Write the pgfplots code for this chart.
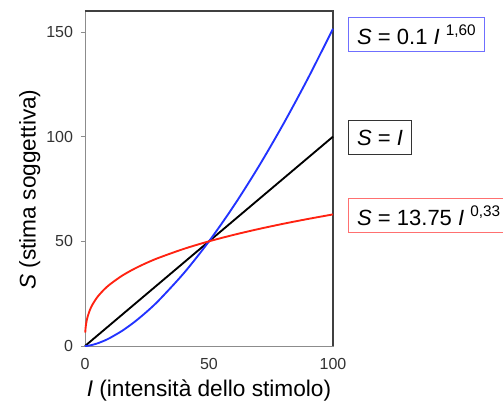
\documentclass[border=0pt]{standalone}
\usepackage{pgfplots}
\pgfplotsset{compat=1.18}
\usepackage{fontspec}
\setmainfont{Liberation Sans}
\definecolor{cblue}{HTML}{2233FF}
\definecolor{cred}{HTML}{FF2211}
\definecolor{bblue}{HTML}{6F6FFF}
\definecolor{bred}{HTML}{FF7070}
\begin{document}
\begin{tikzpicture}
\path[use as bounding box] (-63.75pt,-44.25pt) rectangle (313.5pt,259.5pt);
\begin{axis}[
  at={(0,0)}, anchor=south west,
  scale only axis, width=186pt, height=251.25pt,
  xmin=0, xmax=100, ymin=0, ymax=160,
  xtick={0,50,100}, ytick={0,50,100,150},
  /pgf/number format/assume math mode=true,
  tick label style={font=\fontsize{12}{14}\selectfont, text=black!80},
  axis line style={draw=gray!90},
  tick align=outside, tick pos=left,
  x tick style={draw=none}, major tick length=3pt,
  y tick style={draw=gray!90, line width=0.6pt},
  xticklabel style={yshift=-3pt},
  yticklabel style={xshift=-2.5pt},
  xlabel={\textit{I} (intensità dello stimolo)},
  ylabel={\textit{S} (stima soggettiva)},
  label style={font=\fontsize{17}{20}\selectfont},
  xlabel style={at={(rel axis cs:0.5,0)}, anchor=center, yshift=-33pt},
  ylabel style={at={(rel axis cs:0,0.467)}, anchor=center, yshift=41.5pt},
  clip=false,
]
\draw[black!75, line width=0.8pt] (rel axis cs:0,1) -- (rel axis cs:1,1) -- (rel axis cs:1,0);
\addplot[black, line width=1.4pt] coordinates {(0,0) (100,100)};
\addplot[cblue, line width=1.4pt, smooth] coordinates {
(0,0) (1,0.096) (2,0.29) (3,0.555) (5,1.256) (7.5,2.40) (10,3.81) (15,7.28)
(20,11.54) (25,16.49) (30,22.08) (40,34.99) (50,50) (60,66.94) (70,85.66)
(80,106.07) (90,128.06) (100,151.57)};
\addplot[cred, line width=1.4pt, smooth] coordinates {
(0.1,6.43) (0.25,8.70) (0.5,10.94) (1,13.75) (2,17.28) (3,19.76) (5,23.39)
(7.5,26.73) (10,29.40) (15,33.61) (20,36.95) (25,39.78) (30,42.24) (40,46.45)
(50,50.00) (60,53.10) (70,55.87) (80,58.39) (90,60.70) (100,62.85)};
\node[draw=bblue, line width=0.8pt, anchor=west, minimum height=26pt, inner xsep=6.5pt,
  font=\fontsize{16.5}{19}\selectfont] at (axis cs:100,148.8) [xshift=11.25pt]
  {\textit{S} = 0.1 \textit{I} \raisebox{0.75ex}{\fontsize{11.5}{12}\selectfont 1,60}};
\node[draw=black!80, line width=0.8pt, anchor=west, minimum height=26pt, inner xsep=6.5pt,
  font=\fontsize{16.5}{19}\selectfont] at (axis cs:100,99.6) [xshift=11.25pt]
  {\textit{S} = \textit{I}};
\node[draw=bred, line width=0.8pt, anchor=west, minimum height=26pt, inner xsep=6.5pt,
  font=\fontsize{16.5}{19}\selectfont] at (axis cs:100,62.3) [xshift=11.25pt]
  {\textit{S} = 13.75 \textit{I} \raisebox{0.75ex}{\fontsize{11.5}{12}\selectfont 0,33}};
\end{axis}
\end{tikzpicture}
\end{document}
